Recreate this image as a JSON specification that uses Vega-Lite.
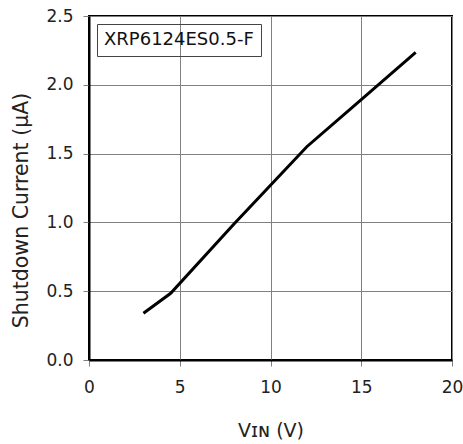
{
  "$schema": "https://vega.github.io/schema/vega-lite/v6.json",
  "width": 363,
  "height": 344,
  "autosize": {"type": "none"},
  "padding": {"left": 89, "top": 16, "right": 11, "bottom": 84},
  "background": "white",
  "config": {
    "view": {"stroke": "black", "strokeWidth": 2},
    "font": "DejaVu Sans",
    "axis": {
      "grid": true,
      "gridColor": "#808080",
      "gridWidth": 1,
      "domainColor": "black",
      "domainWidth": 2,
      "tickColor": "#808080",
      "tickSize": 6,
      "tickWidth": 1,
      "labelFont": "DejaVu Sans",
      "labelFontSize": 17,
      "labelColor": "#222",
      "labelPadding": 10,
      "titleFont": "DejaVu Sans",
      "titleFontSize": 20.5,
      "titleFontWeight": "normal",
      "titleColor": "#222"
    },
    "legend": {
      "strokeColor": "#444",
      "padding": 7,
      "labelFont": "DejaVu Sans",
      "labelFontSize": 18,
      "labelColor": "#111",
      "labelOffset": -18
    }
  },
  "data": {
    "values": [
      {"vin": 3.0, "current": 0.34, "series": "XRP6124ES0.5-F"},
      {"vin": 4.5, "current": 0.485, "series": "XRP6124ES0.5-F"},
      {"vin": 8.0, "current": 0.99, "series": "XRP6124ES0.5-F"},
      {"vin": 12.0, "current": 1.55, "series": "XRP6124ES0.5-F"},
      {"vin": 15.0, "current": 1.893, "series": "XRP6124ES0.5-F"},
      {"vin": 18.0, "current": 2.235, "series": "XRP6124ES0.5-F"}
    ]
  },
  "mark": {"type": "line", "strokeWidth": 3, "strokeCap": "butt"},
  "encoding": {
    "x": {
      "field": "vin",
      "type": "quantitative",
      "scale": {"domain": [0, 20], "nice": false},
      "axis": {"values": [0, 5, 10, 15, 20], "title": "Vɪɴ (V)", "titleFontSize": 19, "titlePadding": 26, "labelPadding": 13, "labelFlush": false}
    },
    "y": {
      "field": "current",
      "type": "quantitative",
      "scale": {"domain": [0, 2.5], "nice": false},
      "axis": {"values": [0, 0.5, 1, 1.5, 2, 2.5], "format": ".1f", "title": "Shutdown Current (µA)", "titlePadding": 14, "titleY": 194}
    },
    "color": {
      "field": "series",
      "type": "nominal",
      "scale": {"range": ["black"]},
      "legend": {"title": null, "orient": "top-left", "offset": 8, "symbolType": "circle", "symbolSize": 0, "symbolStrokeWidth": 0, "symbolOpacity": 0}
    }
  }
}
